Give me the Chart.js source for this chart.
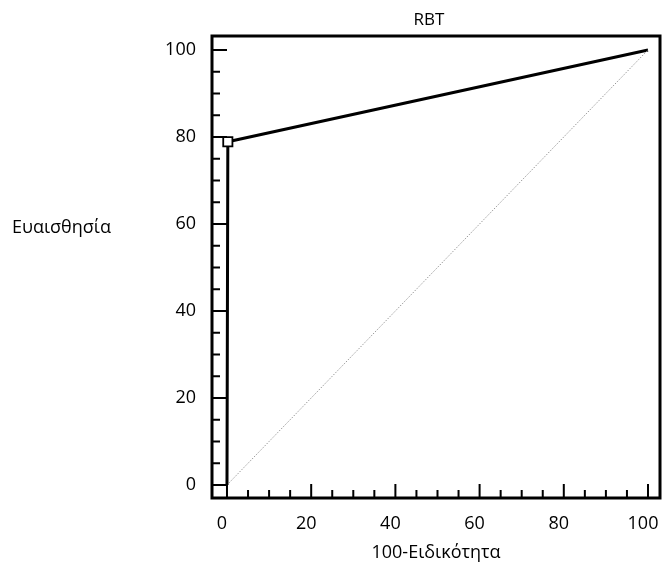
<!DOCTYPE html>
<html>
<head>
<meta charset="utf-8">
<script src="https://cdn.jsdelivr.net/npm/chart.js@4/dist/chart.umd.min.js"></script>
<style>
  html, body { margin: 0; padding: 0; background: #fff; }
  #wrap { width: 663px; height: 564px; position: relative; }
</style>
</head>
<body>
<div id="wrap"><canvas id="c" width="663" height="564"></canvas></div>
<script>
// ---- data ----
const chartTitle = "RBT";
const xTitle = "100-Ειδικότητα";
const yTitle = "Ευαισθησία";
const rocX = [0, 0.2, 100];          // 100 - specificity
const rocY = [0, 78.9, 100];         // sensitivity
const diagX = [0, 100];
const diagY = [0, 100];
const tickValues = [0, 5, 10, 15, 20, 25, 30, 35, 40, 45, 50, 55, 60, 65, 70, 75, 80, 85, 90, 95, 100];
const majorTicks = [0, 20, 40, 60, 80, 100];

const FONT = '"Open Sans", "Noto Sans", sans-serif';

const rocData = rocX.map((x, i) => ({ x: x, y: rocY[i] }));
const diagData = diagX.map((x, i) => ({ x: x, y: diagY[i] }));

const decorPlugin = {
  id: 'decor',
  afterDraw(chart) {
    const ctx = chart.ctx, a = chart.chartArea;
    const xs = chart.scales.x, ys = chart.scales.y;
    ctx.save();
    ctx.strokeStyle = '#000';
    ctx.lineCap = 'butt';
    ctx.lineWidth = 2;
    ctx.beginPath();
    tickValues.forEach(v => {
      const major = majorTicks.includes(v);
      const px = xs.getPixelForValue(v);
      ctx.moveTo(px, a.bottom);
      ctx.lineTo(px, a.bottom - (major ? 14 : 8));
      const py = ys.getPixelForValue(v);
      ctx.moveTo(a.left, py);
      ctx.lineTo(a.left + (major ? 15 : 8), py);
    });
    ctx.stroke();
    ctx.lineWidth = 3;
    ctx.strokeRect(a.left, a.top, a.right - a.left, a.bottom - a.top);
    // titles
    ctx.fillStyle = '#000';
    ctx.textBaseline = 'middle';
    ctx.textAlign = 'center';
    ctx.font = '17px ' + FONT;
    ctx.fillText(chartTitle, 429, 20);
    ctx.textAlign = 'left';
    ctx.font = '18px ' + FONT;
    ctx.fillText(yTitle, 12, 228);
    ctx.restore();
  }
};

new Chart(document.getElementById('c'), {
  type: 'scatter',
  data: {
    datasets: [
      {
        data: diagData,
        showLine: true,
        borderColor: '#999999',
        borderWidth: 1,
        borderDash: [1.5, 1.5],
        pointRadius: 0,
        fill: false
      },
      {
        data: rocData,
        showLine: true,
        borderColor: '#000',
        borderWidth: 3,
        pointStyle: 'rect',
        pointRadius: [0, 6.5, 0],
        pointBackgroundColor: '#fff',
        pointBorderColor: '#000',
        pointBorderWidth: 1.8,
        fill: false
      }
    ]
  },
  options: {
    responsive: false,
    animation: false,
    layout: { padding: { left: 0, right: 3, top: 36, bottom: 0 } },
    plugins: { legend: { display: false }, tooltip: { enabled: false }, title: { display: false } },
    scales: {
      x: {
        type: 'linear',
        position: 'bottom',
        min: -3.56,
        max: 102.85,
        afterBuildTicks: s => { s.ticks = tickValues.map(v => ({ value: v })); },
        afterFit: s => { s.height = 66; s.paddingLeft = 0; s.paddingRight = 0; },
        grid: { display: false, drawTicks: false },
        border: { display: false },
        ticks: {
          autoSkip: false,
          maxRotation: 0,
          padding: 15,
          labelOffset: -5,
          color: '#000',
          font: { family: FONT, size: 18 },
          callback: v => majorTicks.includes(v) ? String(v) : ''
        },
        title: {
          display: true,
          text: xTitle,
          color: '#000',
          font: { family: FONT, size: 18 },
          padding: { top: 0, bottom: 0 }
        }
      },
      y: {
        type: 'linear',
        position: 'left',
        min: -2.99,
        max: 103.2,
        afterBuildTicks: s => { s.ticks = tickValues.map(v => ({ value: v })); },
        afterFit: s => { s.width = 212; s.paddingTop = 0; s.paddingBottom = 0; },
        grid: { display: false, drawTicks: false },
        border: { display: false },
        ticks: {
          autoSkip: false,
          padding: 16,
          color: '#000',
          font: { family: FONT, size: 18 },
          callback: v => majorTicks.includes(v) ? String(v) : ''
        }
      }
    }
  },
  plugins: [decorPlugin]
});
</script>
</body>
</html>
